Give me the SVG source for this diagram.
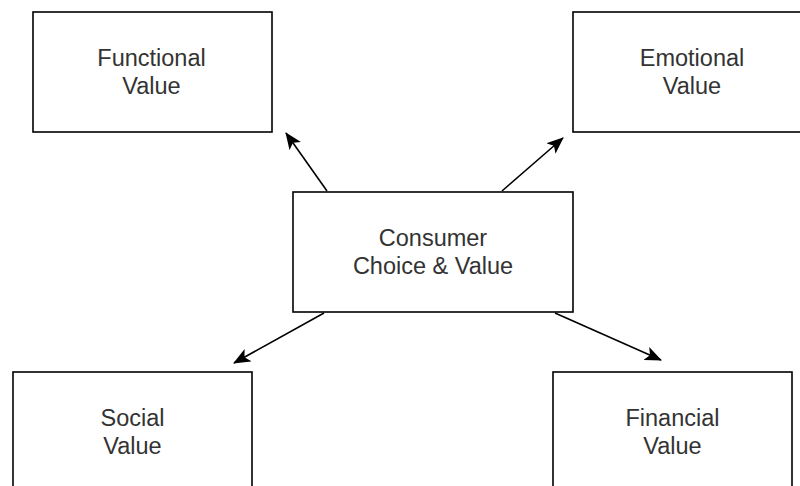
<svg xmlns="http://www.w3.org/2000/svg" width="800" height="486" viewBox="0 0 800 486">
  <style>
    .box { fill: #ffffff; stroke: #000000; stroke-width: 1.6; }
    .label { font-family: "Liberation Sans", Arial, Helvetica, sans-serif; font-size: 23.5px; fill: #333333; text-anchor: middle; }
    .edge { stroke: #000000; stroke-width: 1.6; fill: none; marker-end: url(#arrow); }
  </style>
  <defs>
    <marker id="arrow" markerUnits="userSpaceOnUse" markerWidth="17" markerHeight="14" viewBox="0 0 17 14" refX="16" refY="7" orient="auto">
      <path d="M0,0 L17,7 L0,14 L4,7 Z" fill="#000000"/>
    </marker>
  </defs>
  <rect width="800" height="486" fill="#ffffff"/>

  <g id="connectors">
    <line class="edge" x1="327" y1="191" x2="286" y2="133"/>
    <line class="edge" x1="502" y1="191" x2="563" y2="138"/>
    <line class="edge" x1="324" y1="313" x2="234" y2="363"/>
    <line class="edge" x1="555" y1="313" x2="661" y2="360"/>
  </g>

  <g id="functional">
    <rect class="box" x="33" y="12" width="239" height="120"/>
    <text class="label" x="151.5" y="66">Functional</text>
    <text class="label" x="151.5" y="94">Value</text>
  </g>

  <g id="emotional">
    <rect class="box" x="573" y="12" width="239" height="120"/>
    <text class="label" x="692" y="66">Emotional</text>
    <text class="label" x="692" y="94">Value</text>
  </g>

  <g id="consumer">
    <rect class="box" x="293" y="192" width="280" height="120"/>
    <text class="label" x="433" y="246">Consumer</text>
    <text class="label" x="433" y="274">Choice &amp; Value</text>
  </g>

  <g id="social">
    <rect class="box" x="13" y="372" width="239" height="120"/>
    <text class="label" x="132.5" y="426">Social</text>
    <text class="label" x="132.5" y="454">Value</text>
  </g>

  <g id="financial">
    <rect class="box" x="553" y="372" width="239" height="120"/>
    <text class="label" x="672.5" y="426">Financial</text>
    <text class="label" x="672.5" y="454">Value</text>
  </g>
</svg>
